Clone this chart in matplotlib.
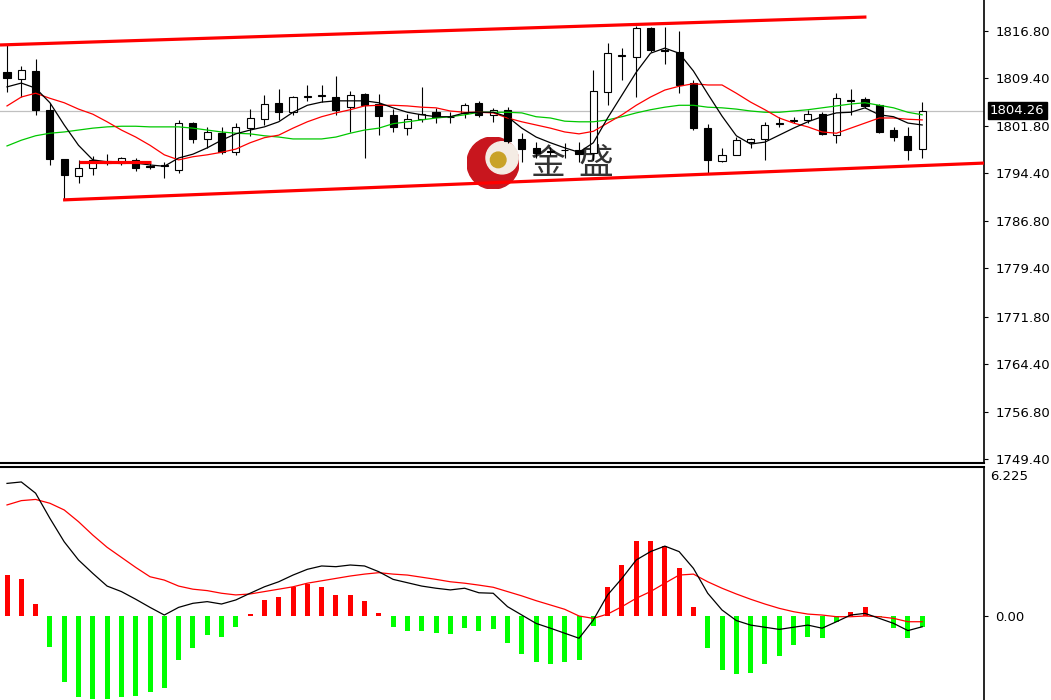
import numpy as np
import matplotlib.pyplot as plt
from matplotlib.patches import Circle
from matplotlib.transforms import blended_transform_factory

plt.rcParams['font.family'] = ['DejaVu Sans', 'Noto Sans CJK SC']

# K线数据 (65根)
opens = [1810.3, 1809.2, 1810.5, 1804.4, 1796.6, 1794.0, 1795.2, 1796.0, 1796.0, 1796.5,
         1795.5, 1795.5, 1794.9, 1802.3, 1799.8, 1800.7, 1797.8, 1801.5, 1802.9, 1805.5,
         1804.0, 1806.4, 1806.6, 1806.4, 1804.8, 1806.9, 1805.3, 1803.6, 1801.5, 1802.9,
         1804.0, 1803.3, 1803.9, 1805.5, 1803.6, 1804.4, 1799.8, 1798.4, 1797.9, 1798.1,
         1798.1, 1797.6, 1807.2, 1812.9, 1812.7, 1817.3, 1813.8, 1813.5, 1808.6, 1801.5,
         1796.3, 1797.3, 1799.3, 1799.8, 1802.2, 1802.6, 1802.8, 1803.7, 1800.4, 1805.8,
         1806.1, 1805.1, 1801.2, 1800.3, 1798.2]
highs = [1814.6, 1811.3, 1812.4, 1805.5, 1796.6, 1796.5, 1797.1, 1797.4, 1797.0, 1796.8,
         1796.0, 1796.2, 1802.8, 1802.5, 1801.7, 1801.7, 1802.3, 1804.5, 1806.7, 1807.7,
         1806.6, 1808.3, 1808.3, 1809.7, 1807.3, 1807.0, 1806.9, 1804.5, 1803.7, 1808.0,
         1804.7, 1804.0, 1805.5, 1805.8, 1804.7, 1804.8, 1800.7, 1799.3, 1798.5, 1799.2,
         1799.3, 1810.7, 1814.9, 1814.1, 1817.6, 1817.4, 1817.4, 1816.8, 1809.1, 1802.2,
         1798.4, 1800.1, 1799.9, 1802.5, 1803.3, 1803.3, 1804.4, 1804.0, 1807.0, 1807.7,
         1806.4, 1805.3, 1801.7, 1801.7, 1805.6]
lows = [1807.2, 1806.4, 1803.6, 1795.7, 1790.2, 1792.9, 1794.1, 1795.7, 1795.7, 1794.8,
        1795.1, 1793.7, 1794.4, 1799.2, 1798.4, 1797.4, 1797.3, 1800.3, 1802.0, 1802.8,
        1803.6, 1805.8, 1805.6, 1803.6, 1800.9, 1796.8, 1800.4, 1800.9, 1800.4, 1802.5,
        1802.3, 1802.3, 1803.1, 1803.3, 1802.5, 1799.2, 1796.2, 1796.8, 1797.3, 1796.8,
        1796.2, 1796.5, 1805.1, 1809.1, 1806.4, 1813.5, 1811.6, 1807.0, 1801.2, 1794.4,
        1796.2, 1797.3, 1798.4, 1796.5, 1801.7, 1802.3, 1802.3, 1800.4, 1799.2, 1803.6,
        1804.7, 1800.7, 1799.5, 1796.5, 1796.8]
closes = [1809.4, 1810.7, 1804.4, 1796.6, 1794.1, 1795.2, 1796.5, 1796.3, 1796.8, 1795.2,
          1795.4, 1795.7, 1802.3, 1799.8, 1800.9, 1797.8, 1801.7, 1803.1, 1805.3, 1804.0,
          1806.4, 1806.6, 1806.7, 1804.4, 1806.7, 1805.1, 1803.4, 1801.7, 1802.9, 1803.7,
          1803.3, 1803.2, 1805.1, 1803.6, 1804.4, 1799.5, 1798.2, 1797.6, 1797.8, 1798.0,
          1797.4, 1807.4, 1813.3, 1813.0, 1817.3, 1813.8, 1813.7, 1808.3, 1801.5, 1796.5,
          1797.3, 1799.6, 1799.8, 1802.0, 1802.3, 1802.8, 1803.7, 1800.6, 1806.2, 1805.9,
          1805.0, 1800.9, 1800.1, 1798.1, 1804.26]

# 均线
ma_fast = [1808.0, 1808.6, 1807.8, 1805.5, 1802.0, 1798.8, 1796.5, 1796.2, 1796.0, 1796.0,
           1795.7, 1795.5, 1796.8, 1797.4, 1798.4, 1799.6, 1800.6, 1801.2, 1801.7, 1802.5,
           1804.0, 1805.1, 1805.6, 1805.8, 1805.8, 1805.8, 1805.5, 1804.7, 1804.0, 1803.6,
           1803.3, 1803.3, 1803.9, 1804.0, 1804.0, 1803.3, 1801.5, 1800.1, 1799.2, 1798.4,
           1797.7, 1799.2, 1803.1, 1806.7, 1810.3, 1813.3, 1814.1, 1813.3, 1810.5, 1806.9,
           1803.4, 1800.3, 1799.0, 1799.3, 1800.4, 1801.5, 1802.5, 1803.3, 1803.9, 1804.0,
           1804.7, 1803.6, 1803.3, 1802.3, 1802.0]
ma_mid = [1805.0, 1806.4, 1807.0, 1806.2, 1805.5, 1804.5, 1803.7, 1802.5, 1801.2, 1800.1,
          1798.8, 1797.3, 1796.5, 1797.0, 1797.3, 1797.7, 1798.2, 1799.2, 1800.0, 1800.4,
          1801.5, 1802.5, 1803.3, 1803.9, 1804.4, 1805.0, 1805.1, 1805.1, 1805.0, 1804.8,
          1804.7, 1804.2, 1804.0, 1804.0, 1803.9, 1803.1, 1802.5, 1802.0, 1801.5, 1800.9,
          1800.6, 1801.0, 1802.3, 1803.6, 1805.1, 1806.4, 1807.5, 1808.1, 1808.5, 1808.3,
          1808.3, 1807.0, 1805.6, 1804.4, 1803.1, 1802.3, 1801.7, 1800.9, 1800.7, 1801.5,
          1802.3, 1803.1, 1803.1, 1802.9, 1802.8]
ma_slow = [1798.7, 1799.6, 1800.3, 1800.7, 1800.9, 1801.2, 1801.5, 1801.7, 1801.8, 1801.8,
           1801.7, 1801.7, 1801.7, 1801.5, 1801.2, 1800.9, 1800.7, 1800.6, 1800.3, 1800.1,
           1799.8, 1799.8, 1799.8, 1800.1, 1800.7, 1801.2, 1801.5, 1802.2, 1802.5, 1802.8,
           1803.1, 1803.3, 1803.6, 1804.0, 1804.0, 1804.0, 1803.9, 1803.3, 1803.1, 1802.6,
           1802.5, 1802.5, 1802.8, 1803.3, 1803.9, 1804.4, 1804.8, 1805.1, 1805.1, 1804.8,
           1804.7, 1804.5, 1804.2, 1804.0, 1804.0, 1804.2, 1804.4, 1804.7, 1805.0, 1805.3,
           1805.5, 1805.1, 1804.7, 1804.0, 1803.6]

# 通道线 (K线序号, 价格)
upper_x = [-0.49, 60.1]
upper_y = [1814.6, 1819.0]
lower_x = [3.92, 68.32]
lower_y = [1790.2, 1796.0]
flat_x = [5.03, 10.07]
flat_y = [1796.2, 1796.2]
last_price = 1804.26

price_ticks = [1816.80, 1809.40, 1801.80, 1794.40, 1786.80, 1779.40, 1771.80, 1764.40, 1756.80, 1749.40]

# MACD
macd_hist = [1.71, 1.53, 0.50, -1.28, -2.74, -3.38, -3.45, -3.47, -3.38, -3.34,
             -3.16, -2.99, -1.84, -1.35, -0.79, -0.86, -0.45, 0.08, 0.67, 0.81,
             1.20, 1.34, 1.23, 0.88, 0.88, 0.64, 0.12, -0.45, -0.63, -0.63,
             -0.70, -0.75, -0.51, -0.61, -0.56, -1.11, -1.59, -1.91, -2.00, -1.91,
             -1.84, -0.40, 1.23, 2.13, 3.15, 3.15, 2.92, 2.02, 0.39, -1.35,
             -2.26, -2.42, -2.37, -2.00, -1.67, -1.21, -0.86, -0.93, -0.24, 0.18,
             0.36, -0.05, -0.51, -0.93, -0.45]
macd_dif = [5.54, 5.60, 5.13, 4.08, 3.10, 2.34, 1.78, 1.25, 1.02, 0.70,
            0.36, 0.04, 0.36, 0.53, 0.60, 0.50, 0.67, 0.95, 1.22, 1.43,
            1.71, 1.95, 2.09, 2.06, 2.13, 2.09, 1.85, 1.53, 1.39, 1.25,
            1.16, 1.09, 1.16, 0.97, 0.95, 0.39, 0.04, -0.31, -0.51, -0.72,
            -0.93, -0.17, 0.88, 1.57, 2.34, 2.69, 2.92, 2.69, 1.99, 0.95,
            0.25, -0.19, -0.38, -0.47, -0.56, -0.47, -0.38, -0.51, -0.24, 0.04,
            0.11, -0.10, -0.31, -0.61, -0.45]
macd_dea = [4.64, 4.82, 4.87, 4.71, 4.43, 3.94, 3.38, 2.87, 2.45, 2.03,
            1.64, 1.50, 1.25, 1.12, 1.06, 0.95, 0.88, 0.92, 1.02, 1.12,
            1.22, 1.37, 1.47, 1.57, 1.67, 1.75, 1.81, 1.75, 1.71, 1.62,
            1.53, 1.43, 1.37, 1.29, 1.20, 1.02, 0.84, 0.64, 0.46, 0.28,
            0.00, -0.10, 0.08, 0.39, 0.74, 1.02, 1.37, 1.71, 1.75, 1.43,
            1.16, 0.92, 0.70, 0.50, 0.32, 0.18, 0.08, 0.04, -0.03, -0.03,
            0.00, -0.03, -0.10, -0.24, -0.24]
macd_top = 6.225

W, H = 1051, 700
fig = plt.figure(figsize=(W/100, H/100), dpi=100)
fig.patch.set_facecolor('white')

ax1 = fig.add_axes([0, 237/H, 984/W, 463/H])
ax2 = fig.add_axes([0, 0, 984/W, 233/H])

idx = np.arange(len(opens))
o = np.array(opens); c = np.array(closes)
up = c >= o

# 主图
ax1.set_facecolor('none')
ax1.vlines(idx, lows, highs, color='black', lw=0.8, zorder=3)
ax1.bar(idx, np.abs(c - o), bottom=np.minimum(o, c), width=0.5,
        color=np.where(up, 'white', 'black'), edgecolor='black', linewidth=0.8, zorder=4)
ax1.axhline(last_price, color='#c0c0c0', lw=0.9, zorder=1)
ax1.plot(idx, ma_slow, color='#00c800', lw=0.9, zorder=5)
ax1.plot(idx, ma_mid, color='#ff0000', lw=0.9, zorder=5)
ax1.plot(idx, ma_fast, color='black', lw=0.9, zorder=5)
for xs, ys in [(upper_x, upper_y), (lower_x, lower_y), (flat_x, flat_y)]:
    ax1.plot(xs, ys, color='#ff0000', lw=2.3, solid_capstyle='butt', zorder=6)

ax1.set_xlim(-0.49, 68.32)
ax1.set_ylim(1748.77, 1821.68)
ax1.set_xticks([])
ax1.yaxis.tick_right()
ax1.set_yticks(price_ticks)
ax1.set_yticklabels([f'{v:.2f}' for v in price_ticks])
ax1.tick_params(axis='y', direction='out', length=3, width=0.8, pad=5, labelsize=9.5)
for s in ['left', 'top']:
    ax1.spines[s].set_visible(False)
ax1.spines['right'].set_linewidth(1.2)
ax1.spines['bottom'].set_linewidth(1.5)

trans = blended_transform_factory(ax1.transAxes, ax1.transData)
ax1.text(1.006, last_price, f'{last_price:.2f}', transform=trans, ha='left', va='center',
         color='white', fontsize=9.5, clip_on=False, zorder=10,
         bbox=dict(boxstyle='square,pad=0.15', fc='black', ec='black'))

# MACD副图
ax2.set_facecolor('none')
ax2.bar(idx, macd_hist, width=0.35,
        color=['#ff0000' if v > 0 else '#00ff00' for v in macd_hist], zorder=2)
ax2.plot(idx, macd_dea, color='#ff0000', lw=0.9, zorder=3)
ax2.plot(idx, macd_dif, color='black', lw=0.9, zorder=4)
ax2.set_xlim(-0.49, 68.32)
ax2.set_ylim(-3.51, macd_top)
ax2.set_xticks([])
ax2.yaxis.tick_right()
ax2.set_yticks([0])
ax2.set_yticklabels(['0.00'])
ax2.tick_params(axis='y', direction='out', length=3, width=0.8, pad=5, labelsize=9.5)
for s in ['left', 'bottom']:
    ax2.spines[s].set_visible(False)
ax2.spines['right'].set_linewidth(1.2)
ax2.spines['top'].set_linewidth(1.5)
ax2.text(1.006, 0.985, f'{macd_top}', transform=ax2.transAxes, ha='left', va='top',
         fontsize=9.5, clip_on=False)

# 水印
lax = fig.add_axes([467/W, (H-189)/H, 52/W, 52/H], zorder=-1)
lax.set_xlim(-1, 1); lax.set_ylim(-1, 1); lax.axis('off')
lax.add_patch(Circle((0, 0), 1.0, color='#c8161e'))
lax.add_patch(Circle((0.35, 0.2), 0.62, color='#f4ece4'))
lax.add_patch(Circle((0.2, 0.12), 0.3, color='#c9a227'))
fig.text(548/W, 1 - 164/H, '金', fontsize=25, family='Noto Sans CJK SC', color='#333333',
         ha='center', va='center', zorder=-1)
fig.text(596/W, 1 - 164/H, '盛', fontsize=25, family='Noto Sans CJK SC', color='#333333',
         ha='center', va='center', zorder=-1)

plt.savefig('out.png', dpi=100)
